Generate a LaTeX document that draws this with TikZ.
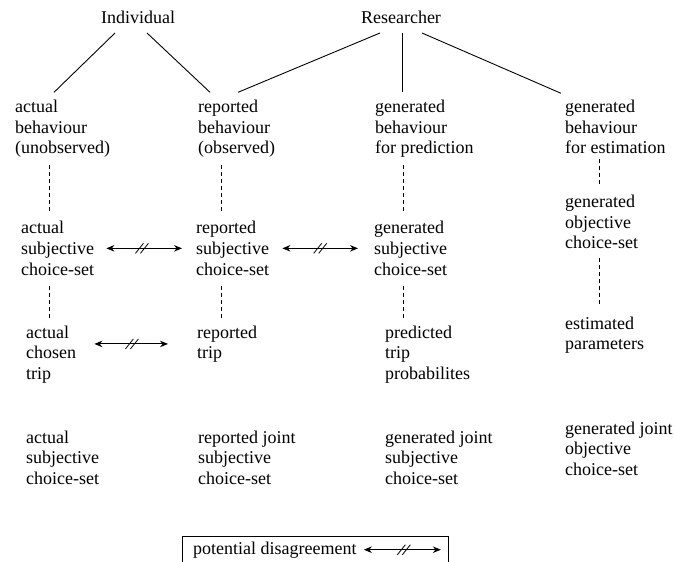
\documentclass[tikz,border=0pt]{standalone}
\usepackage{fontspec}
\setmainfont{Liberation Serif}
\usetikzlibrary{arrows.meta,calc,decorations.markings}
\begin{document}
\begin{tikzpicture}[x=1bp,y=-1bp,
  lbl/.style={inner sep=0pt, font=\fontsize{18bp}{20.5bp}\selectfont},
  txt/.style={lbl, align=left, anchor=base west},
  solidline/.style={line width=0.9bp},
  dsh/.style={line width=0.9bp, dash pattern=on 4bp off 3bp},
  dis/.style={line width=0.9bp,
    {Stealth[length=8bp,width=6.5bp]}-{Stealth[length=8bp,width=6.5bp]},
    postaction={decorate},
    decoration={markings, mark=at position #1 with {
      \draw[line width=0.8bp,-] (-6.5bp,-5bp)--(1.5bp,5bp) (-1.5bp,-5bp)--(6.5bp,5bp);}}},
  boxline/.style={line width=0.9bp}
]
\useasboundingbox (0,0) rectangle (674,562);

% top actors
\node[lbl] (ind) at (138,17) {Individual};
\node[lbl] (res) at (401,17) {Researcher};

% row 1 (positions = baseline of last line)
\node[txt] (a1) at (15,154) {actual\\behaviour\\(unobserved)};
\node[txt] (b1) at (198,154) {reported\\behaviour\\(observed)};
\node[txt] (c1) at (375,154) {generated\\behaviour\\for prediction};
\node[txt] (d1) at (565,154) {generated\\behaviour\\for estimation};

% row 2
\node[txt] (a2) at (21,275) {actual\\subjective\\choice-set};
\node[txt] (b2) at (196,275) {reported\\subjective\\choice-set};
\node[txt] (c2) at (374,275) {generated\\subjective\\choice-set};
\node[txt] (d2) at (565,249) {generated\\objective\\choice-set};

% row 3
\node[txt] (a3) at (26,379) {actual\\chosen\\trip};
\node[txt] (b3) at (197,358.5) {reported\\trip};
\node[txt] (c3) at (385,379) {predicted\\trip\\probabilites};
\node[txt] (d3) at (565,349.5) {estimated\\parameters};

% row 4
\node[txt] (a4) at (26,484) {actual\\subjective\\choice-set};
\node[txt] (b4) at (198,484) {reported joint\\subjective\\choice-set};
\node[txt] (c4) at (385,484) {generated joint\\subjective\\choice-set};
\node[txt] (d4) at (565,475) {generated joint\\objective\\choice-set};

% legend
\node[lbl, anchor=base west] (leg) at (193,554) {potential disagreement};
\draw[boxline] (182,570) |- (448,536) -- (448,570);

% solid connectors
\draw[solidline] ($(ind.center)+(-23,16)$) -- ($(a1.north west)+(39,-8)$);
\draw[solidline] ($(ind.center)+(9,16)$) -- ($(b1.north west)+(12,-8)$);
\draw[solidline] ($(res.center)+(-21,16)$) -- ($(b1.north west)+(40,-8)$);
\draw[solidline] ($(res.center)+(1,16)$) -- ($(c1.north west)+(27,-8)$);
\draw[solidline] ($(res.center)+(21,16)$) -- ($(d1.north west)+(-4,-7)$);

% dashed connectors
\draw[dsh] ($(a1.south west)+(34,7)$) -- ($(a1.south west |- a2.north)+(34,-9)$);
\draw[dsh] ($(a2.south west)+(28,11)$) -- ($(a2.south west |- a3.north)+(28,-4)$);
\draw[dsh] ($(b1.south west)+(23,7)$) -- ($(b1.south west |- b2.north)+(23,-9)$);
\draw[dsh] ($(b2.south west)+(25,11)$) -- ($(b2.south west |- b3.north)+(25,-4)$);
\draw[dsh] ($(c1.south west)+(28,7)$) -- ($(c1.south west |- c2.north)+(28,-9)$);
\draw[dsh] ($(c2.south west)+(29,11)$) -- ($(c2.south west |- c3.north)+(29,-4)$);
\draw[dsh] ($(d1.south west)+(34,5)$) -- ($(d1.south west |- d2.north)+(34,-9)$);
\draw[dsh] ($(d2.south west)+(34,9)$) -- ($(d2.south west |- d3.north)+(34,-11)$);

% disagreement arrows
\draw[dis=0.47] ($(a2.east)+(12,0)$) -- ($(b2.west)+(-14,0)$);
\draw[dis=0.5] ($(b2.east)+(13,0)$) -- ($(c2.west)+(-16,0)$);
\draw[dis=0.51] ($(a3.east |- b3.west)+(18,0)$) -- ($(b3.west)+(-29,0)$);
\draw[dis=0.52] ($(leg.east)+(7,0)$) -- ++(77,0);
\end{tikzpicture}
\end{document}
